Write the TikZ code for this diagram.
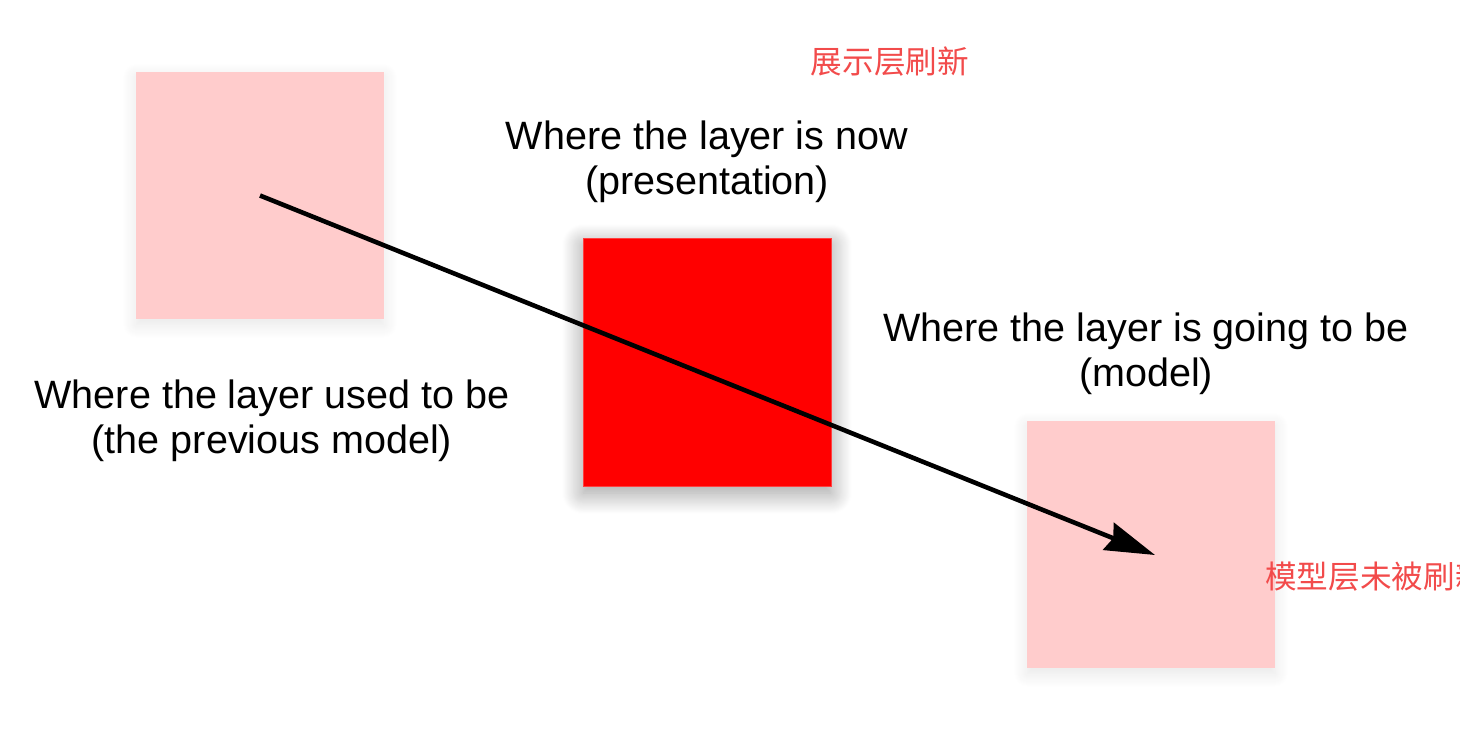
\documentclass[tikz,border=0pt]{standalone}
\usepackage{fontspec}
\setmainfont{Liberation Sans}
\newfontfamily\cjk{Noto Sans CJK SC}
\usetikzlibrary{positioning, arrows.meta, shadows.blur}

\definecolor{palered}{HTML}{FFCCCC}
\definecolor{notered}{HTML}{F24B4B}

\begin{document}
\begin{tikzpicture}[
  x=0.02cm, y=-0.02cm,
  layer/.style={rectangle, minimum size=4.96cm, inner sep=0pt},
  ghost/.style={layer, fill=palered,
                blur shadow={shadow xshift=0pt, shadow yshift=-3pt,
                             shadow blur steps=15,
                             shadow blur radius=8pt, shadow opacity=10}},
  live/.style={layer, fill=red, draw=red!75, line width=0.5pt,
               blur shadow={shadow xshift=0pt, shadow yshift=-4pt,
                            shadow blur steps=25,
                            shadow blur radius=12pt, shadow opacity=40}},
  lbl/.style={align=center, inner sep=0pt,
              font=\fontsize{22.5}{25.6}\selectfont},
  note/.style={text=notered, inner sep=0pt,
               font=\cjk\fontsize{18}{20}\selectfont},
  arr/.style={-{Stealth[length=1cm, width=0.58cm, inset=0.1cm]},
              line width=2.6pt}
]
  \clip (0,0) rectangle (1460,728);

  % the three layers
  \node[ghost] (prev)  at (260,195.5) {};
  \node[live]  (now)   at (707,362)   {};
  \node[ghost] (model) at (1151,544.5) {};

  % labels
  \node[lbl, above=0.69cm of now] (nowlbl)
    {Where the layer is now\\(presentation)};
  \node[lbl, below=1.2cm of prev, xshift=0.24cm] (usedlbl)
    {Where the layer used to be\\(the previous model)};
  \node[lbl, above=0.51cm of model, xshift=-0.1cm] (goinglbl)
    {Where the layer is going to be\\(model)};

  \node[note] (presnote) at (890,62) {展示层刷新};
  \node[note, anchor=west] (modelnote) at (1265,577) {模型层未被刷新};

  \coordinate (tip) at (1155,555);
  \draw[arr] (prev.center) -- (tip);
\end{tikzpicture}
\end{document}
